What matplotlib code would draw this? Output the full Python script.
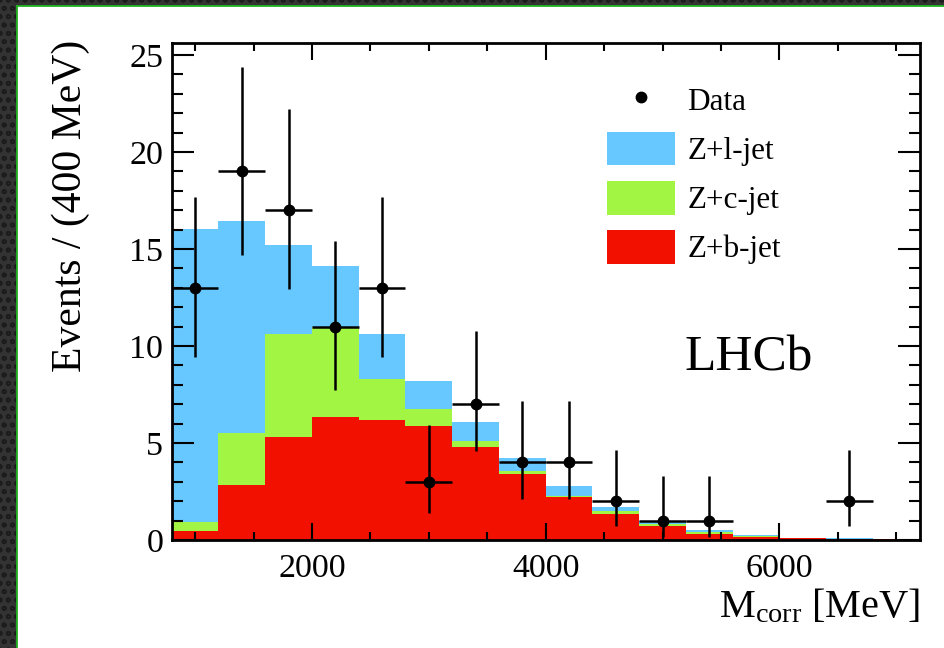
import matplotlib
matplotlib.use('Agg')
import matplotlib.pyplot as plt
import matplotlib.ticker as ticker
import numpy as np
from matplotlib.patches import Rectangle
from matplotlib.lines import Line2D

plt.rcParams['font.family'] = ['Liberation Serif', 'DejaVu Serif']
plt.rcParams['mathtext.fontset'] = 'custom'
plt.rcParams['mathtext.rm'] = 'Liberation Serif'
plt.rcParams['mathtext.it'] = 'Liberation Serif:italic'
plt.rcParams['hatch.linewidth'] = 1.2

# bins of 400 MeV
bin_edges = [800, 1200, 1600, 2000, 2400, 2800, 3200, 3600, 4000,
             4400, 4800, 5200, 5600, 6000, 6400, 6800, 7200]

# template yields per bin
z_bjet = [0.46, 2.84, 5.29, 6.36, 6.19, 5.85, 4.78, 3.42, 2.20, 1.35, 0.72, 0.33, 0.15, 0.08, 0.04, 0.03]
z_cjet = [0.45, 2.66, 5.33, 4.64, 2.09, 0.91, 0.32, 0.13, 0.07, 0.15, 0.08, 0.09, 0.05, 0.01, 0.02, 0.01]
z_ljet = [15.12, 10.94, 4.58, 3.12, 2.34, 1.44, 1.00, 0.68, 0.51, 0.20, 0.17, 0.10, 0.05, 0.01, 0.06, 0.01]

# data points (non-empty bins only) with asymmetric poisson errors
data_x = [1000, 1400, 1800, 2200, 2600, 3000, 3400, 3800, 4200, 4600, 5000, 5400, 6600]
data_y = [13, 19, 17, 11, 13, 3, 7, 4, 4, 2, 1, 1, 2]
data_err_lo = [3.56, 4.30, 4.08, 3.28, 3.56, 1.63, 2.42, 1.91, 1.91, 1.29, 0.83, 0.83, 1.29]
data_err_hi = [4.70, 5.40, 5.20, 4.40, 4.70, 2.92, 3.77, 3.16, 3.16, 2.64, 2.30, 2.30, 2.64]
bin_half_width = 200

col_l = '#66c8ff'
col_c = '#a2f542'
col_b = '#f21100'

fig = plt.figure(figsize=(9.45, 6.48), dpi=100)
fig.patch.set_facecolor('#2e2e2e')

# dark slide background + white panel
fig.patches.append(Rectangle((0, 0), 1, 1, transform=fig.transFigure,
                             facecolor='#333333', edgecolor='#1c1c1c',
                             hatch='oo', lw=0, zorder=-3))
fig.patches.append(Rectangle((17 / 945, 0), 1, 1 - 6 / 648, transform=fig.transFigure,
                             facecolor='white', edgecolor='none', zorder=-2))
fig.lines.append(Line2D([16.5 / 945, 16.5 / 945], [0, 1 - 5.5 / 648], transform=fig.transFigure,
                        color='#22b422', lw=1.3, zorder=-1))
fig.lines.append(Line2D([16.5 / 945, 1], [1 - 5.5 / 648, 1 - 5.5 / 648], transform=fig.transFigure,
                        color='#22b422', lw=1.3, zorder=-1))

ax = fig.add_axes([171.7 / 945, 1 - 540 / 648, (919.6 - 171.7) / 945, (540 - 43.3) / 648])
ax.set_facecolor('none')

b = np.array(z_bjet)
c = np.array(z_cjet)
l = np.array(z_ljet)

# stacked: draw totals first, then overlay lower components
ax.stairs(b + c + l, bin_edges, fill=True, color=col_l, label='Z+l-jet', zorder=1)
ax.stairs(b + c, bin_edges, fill=True, color=col_c, label='Z+c-jet', zorder=1.1)
ax.stairs(b, bin_edges, fill=True, color=col_b, label='Z+b-jet', zorder=1.2)

ax.errorbar(data_x, data_y, xerr=bin_half_width, yerr=[data_err_lo, data_err_hi],
            fmt='o', color='black', ms=7.5, elinewidth=1.8, capsize=0, zorder=3)

ax.set_xlim(800, 7200)
ax.set_ylim(0, 25.6)

ax.xaxis.set_major_locator(ticker.MultipleLocator(2000))
ax.xaxis.set_minor_locator(ticker.MultipleLocator(500))
ax.yaxis.set_major_locator(ticker.MultipleLocator(5))
ax.yaxis.set_minor_locator(ticker.MultipleLocator(1))

ax.tick_params(which='both', direction='in', top=True, right=True, width=1.5,
               labelsize=24.5, color='black')
ax.tick_params(axis='x', which='major', length=12, pad=10)
ax.tick_params(axis='x', which='minor', length=6)
ax.tick_params(axis='y', which='major', length=15.5, pad=6)
ax.tick_params(axis='y', which='minor', length=8)
for sp in ax.spines.values():
    sp.set_linewidth(2)

ax.set_ylabel('Events / (400 MeV)', fontsize=30, loc='top')
ax.yaxis.set_label_coords(-0.109, 1.007)
ax.set_xlabel(r'M$_{\mathrm{corr}}$ [MeV]', fontsize=29, loc='right')
ax.xaxis.set_label_coords(1.0, -0.095)

ax.text(0.686, 0.342, 'LHCb', transform=ax.transAxes, fontsize=37, va='baseline', ha='left')

# legend
data_handle = Line2D([], [], marker='o', color='black', ls='none', ms=7.5)
h, lab = ax.get_legend_handles_labels()
handles = [data_handle] + h
labels = ['Data'] + lab
ax.legend(handles, labels, loc='upper left', bbox_to_anchor=(606.7 / 945, 1 - 83 / 648),
          bbox_transform=fig.transFigure, frameon=False, fontsize=22.5,
          handlelength=2.18, handleheight=1.26, labelspacing=0.48, handletextpad=0.4,
          borderpad=0, borderaxespad=0)

plt.savefig('out.png', dpi=100, facecolor=fig.get_facecolor())
